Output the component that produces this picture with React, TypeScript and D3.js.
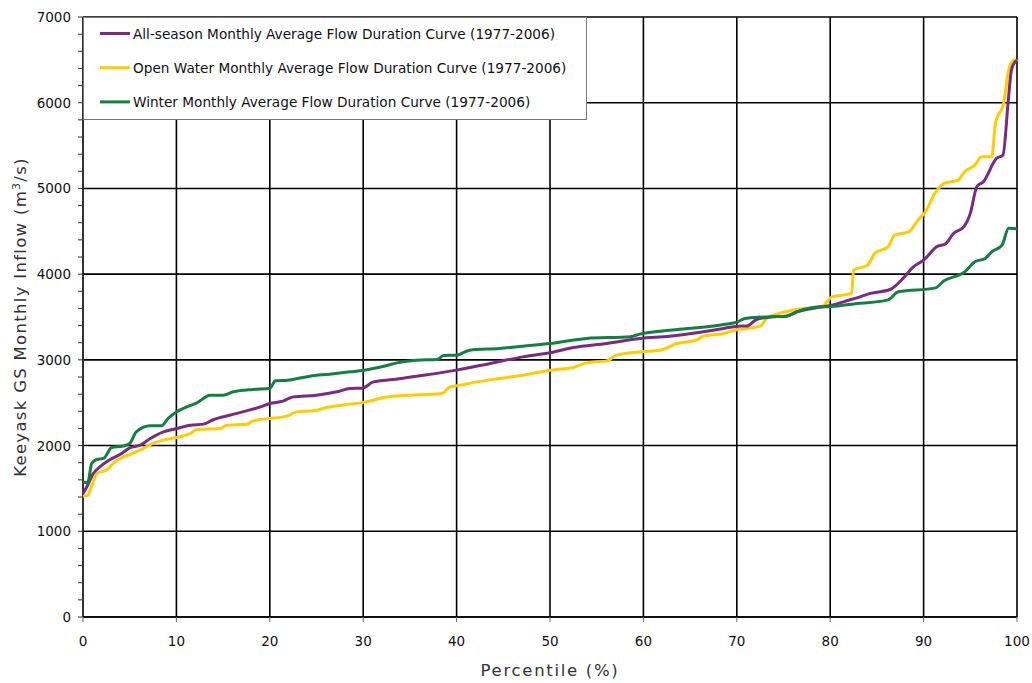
import React from "react";
import * as d3 from "d3";

const allSeasonPct = [0,0.5,1.1,1.8,2.9,4.0,5.0,6.1,7.2,8.6,10,11.5,12.9,14,15.7,17.5,19,20,21.4,22.5,25,27.2,28.6,29.9,31.1,33.2,35.7,38.2,40,43.6,47.1,50,52.5,56.1,59.6,62.8,65.7,68.6,70.1,71.1,72.1,73.6,75.3,76.4,78.9,80.2,81.5,83.2,84.3,86.4,87.8,88.9,90,91.4,92.4,93.2,94.3,95,95.7,96.4,97.8,98.5,99.07,99.4,99.8,100];
const allSeasonFlow = [1440,1537,1674,1751,1837,1899,1973,2004,2082,2160,2199,2238,2250,2304,2354,2405,2451,2491,2518,2568,2588,2627,2666,2670,2743,2771,2810,2848,2880,2958,3035,3082,3144,3191,3250,3276,3315,3366,3393,3395,3471,3500,3510,3558,3615,3637,3680,3735,3775,3821,3950,4085,4164,4319,4358,4475,4552,4709,5020,5078,5350,5389,6031,6381,6478,6490];

const openWaterPct = [0,0.5,0.9,1.5,2.5,3.2,4.3,5.0,6.1,7.2,8.6,10,11.5,12.2,14.7,15.4,17.5,18.2,19,20,21.8,22.9,24.7,26.1,28.2,29.7,31.1,32.2,35,38.2,38.6,39.2,40.4,42.2,44.6,47.1,50,52.5,53.9,56.1,57.1,59.6,61.8,63.6,65.7,66.4,68.6,70.1,71.1,72.5,73.2,74.3,76.4,79.1,80.2,82.3,82.5,84,84.8,86.2,86.9,88.4,89.4,90.2,91.2,92.2,93.7,94.4,95.5,96.2,97.3,97.7,98.6,99.1,99.7,100];
const openWaterFlow = [1409,1420,1517,1674,1712,1790,1868,1895,1946,2012,2063,2094,2141,2187,2199,2238,2250,2288,2304,2316,2343,2393,2405,2444,2479,2498,2529,2561,2588,2605,2615,2680,2705,2743,2783,2821,2880,2911,2965,2988,3055,3093,3113,3191,3230,3276,3308,3354,3366,3393,3483,3533,3588,3620,3735,3775,4047,4105,4245,4319,4455,4494,4630,4728,4942,5059,5098,5195,5273,5370,5370,5759,6012,6381,6498,6480];

const winterPct = [0,0.5,0.93,1.46,2.2,3.07,4.3,5.0,5.7,7.2,8.4,9.1,10,11.1,12.2,13.6,15,16.1,18.2,20,20.6,21.9,24.3,26.4,28.6,30.1,32.2,33.6,35.7,37.9,38.6,40,41.4,44.6,47.1,50,53.9,58.6,59.6,62.8,65.7,68.6,70.1,70.9,73.6,75.3,76.4,78.9,80.2,82.3,86.2,87.3,91.2,92.2,94.4,95.5,96.6,97.3,98.4,99.1,100];
const winterFlow = [1576,1568,1790,1837,1850,1977,1995,2024,2160,2230,2230,2316,2393,2451,2498,2588,2588,2627,2654,2666,2755,2762,2810,2833,2860,2880,2926,2965,2996,3004,3050,3055,3113,3133,3160,3191,3250,3270,3300,3346,3374,3413,3444,3483,3502,3510,3560,3619,3622,3650,3700,3794,3837,3922,4027,4144,4183,4261,4339,4534,4530];

const seriesNames = [
  "All-season Monthly Average Flow Duration Curve (1977-2006)",
  "Open Water Monthly Average Flow Duration Curve (1977-2006)",
  "Winter Monthly Average Flow Duration Curve (1977-2006)",
];
const seriesColors = ["#7b2a82", "#ffcc00", "#118042"];
const xTicks = [0, 10, 20, 30, 40, 50, 60, 70, 80, 90, 100];
const yTicks = [0, 1000, 2000, 3000, 4000, 5000, 6000, 7000];
const xTitle = "Percentile (%)";

export default function App() {
  const W = 1032, H = 683;
  const left = 83, right = 1017, top = 17, bottom = 617;
  const x = d3.scaleLinear().domain([0, 100]).range([left, right]);
  const y = d3.scaleLinear().domain([0, 7000]).range([bottom, top]);
  const line = d3.line<[number, number]>().x(d => x(d[0])).y(d => y(d[1])).curve(d3.curveMonotoneX);
  const series = [
    d3.zip(allSeasonPct, allSeasonFlow) as [number, number][],
    d3.zip(openWaterPct, openWaterFlow) as [number, number][],
    d3.zip(winterPct, winterFlow) as [number, number][],
  ];
  const minor = d3.range(0, 7001, 200);
  const font = "'DejaVu Sans', Verdana, sans-serif";
  const order = [1, 0, 2];
  return (
    <svg width={W} height={H} style={{ position: "absolute", left: 0, top: 0, background: "#fff" }} fontFamily={font}>
      <rect x={0} y={0} width={W} height={H} fill="#fff" />
      {xTicks.map(t => (
        <line key={"gx" + t} x1={x(t)} x2={x(t)} y1={top} y2={bottom} stroke="#000" strokeWidth={1.6} />
      ))}
      {yTicks.map(t => (
        <line key={"gy" + t} x1={left} x2={right} y1={y(t)} y2={y(t)} stroke="#000" strokeWidth={1.6} />
      ))}
      <line x1={left} x2={left} y1={top} y2={bottom} stroke="#333" strokeWidth={1.5} />
      <line x1={left} x2={right} y1={bottom} y2={bottom} stroke="#000" strokeWidth={1.5} />
      {minor.map(t => (
        <line key={"mt" + t} x1={left - 5} x2={left} y1={y(t)} y2={y(t)} stroke="#333" strokeWidth={1} />
      ))}
      {xTicks.map(t => (
        <line key={"xt" + t} x1={x(t)} x2={x(t)} y1={bottom} y2={bottom + 5} stroke="#666" strokeWidth={1} />
      ))}
      {yTicks.map(t => (
        <text key={"yl" + t} x={71} y={y(t) + 5} textAnchor="end" fontSize={13.5} fill="#111">{t}</text>
      ))}
      {xTicks.map(t => (
        <text key={"xl" + t} x={x(t)} y={646} textAnchor="middle" fontSize={13.5} fill="#111">{t}</text>
      ))}
      <text x={(left + right) / 2} y={676} textAnchor="middle" fontSize={16.5} letterSpacing={1.7} fill="#333">{xTitle}</text>
      <text transform={`translate(26, ${(top + bottom) / 2}) rotate(-90)`} textAnchor="middle" fontSize={16.5} letterSpacing={1.3} fill="#333">
        Keeyask GS Monthly Inflow (m<tspan dy={-6} fontSize={11}>3</tspan><tspan dy={6}>/s)</tspan>
      </text>
      {order.map(i => (
        <path key={"s" + i} d={line(series[i]) || ""} fill="none" stroke={seriesColors[i]} strokeWidth={3} strokeLinejoin="round" />
      ))}
      <rect x={83.5} y={17.5} width={503} height={102} fill="#fff" stroke="#777" strokeWidth={1} />
      {seriesNames.map((n, i) => (
        <g key={"lg" + i}>
          <line x1={100} x2={130} y1={33.5 + i * 34.2} y2={33.5 + i * 34.2} stroke={seriesColors[i]} strokeWidth={3} />
          <text x={133} y={38.5 + i * 34.2} fontSize={13.65} fill="#111">{n}</text>
        </g>
      ))}
    </svg>
  );
}
